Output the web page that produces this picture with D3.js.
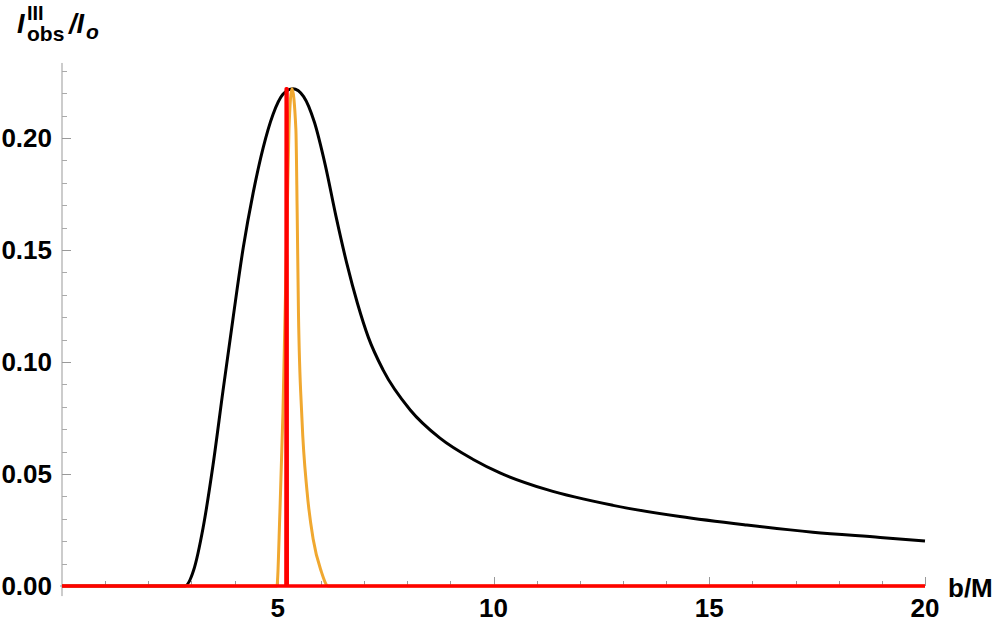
<!DOCTYPE html>
<html>
<head>
<meta charset="utf-8">
<script src="https://cdn.jsdelivr.net/npm/d3@7"></script>
<style>
  body { margin: 0; background: #fff; }
  svg { display: block; font-family: "Liberation Sans", Arial, sans-serif; }
  .tick-label { font-size: 26px; font-weight: bold; fill: #000; }
</style>
</head>
<body>
<div id="chart"></div>
<script>
// 黑线：b/M 与强度
const blackB = [0, 2.85, 3.05, 3.27, 3.5, 3.73, 3.96, 4.2, 4.43, 4.66, 4.89, 5.12, 5.35, 5.6, 5.85, 6.1, 6.35, 6.6, 6.85, 7.1, 7.44, 8.07, 8.76, 9.53, 10.15, 11.24, 12.77, 14.32, 15.87, 17.4, 18.96, 20];
const blackV = [0, 0, 0.007, 0.026, 0.054, 0.087, 0.119, 0.151, 0.1755, 0.1955, 0.2105, 0.2195, 0.222, 0.2185, 0.207, 0.188, 0.165, 0.144, 0.126, 0.111, 0.0965, 0.0786, 0.066, 0.0565, 0.0505, 0.0430, 0.0360, 0.0310, 0.0272, 0.0240, 0.0217, 0.0201];

// 橙线
const orangeB = [0, 4.98, 5.05, 5.12, 5.17, 5.22, 5.26, 5.33, 5.42, 5.45, 5.48, 5.56, 5.68, 5.82, 6.0, 6.17, 20];
const orangeV = [0, 0, 0.033, 0.077, 0.122, 0.167, 0.204, 0.222, 0.204, 0.167, 0.122, 0.075, 0.042, 0.021, 0.007, 0, 0];

// 红线（窄峰）
const redB = [0, 5.19, 5.195, 5.215, 5.22, 20];
const redV = [0, 0, 0.222, 0.222, 0, 0];

const xMajor = [5, 10, 15, 20];
const yMajor = [0, 0.05, 0.10, 0.15, 0.20];

const width = 997, height = 633;

const x = d3.scaleLinear().domain([0, 20]).range([62, 925]);
const y = d3.scaleLinear().domain([0, 0.2]).range([586, 138]);

const svg = d3.select('#chart').append('svg')
  .attr('width', width)
  .attr('height', height);

const axisColor = '#999';

// y 轴
const yAxis = svg.append('g');
yAxis.append('line')
  .attr('x1', x(0)).attr('x2', x(0))
  .attr('y1', y(0.2335)).attr('y2', y(-0.0045))
  .attr('stroke', axisColor).attr('stroke-width', 1);

const yMinor = d3.range(0, 24).map(i => i / 100);
yAxis.selectAll('line.minor')
  .data(yMinor.filter(v => !yMajor.some(m => Math.abs(m - v) < 1e-9)))
  .join('line')
  .attr('class', 'minor')
  .attr('x1', x(0)).attr('x2', x(0) + 5)
  .attr('y1', d => Math.round(y(d)) + 0.5).attr('y2', d => Math.round(y(d)) + 0.5)
  .attr('stroke', '#aaa');

yAxis.selectAll('line.major')
  .data(yMajor)
  .join('line')
  .attr('class', 'major')
  .attr('x1', x(0)).attr('x2', x(0) + 9)
  .attr('y1', d => Math.round(y(d)) + 0.5).attr('y2', d => Math.round(y(d)) + 0.5)
  .attr('stroke', axisColor);

yAxis.selectAll('text')
  .data(yMajor)
  .join('text')
  .attr('class', 'tick-label')
  .attr('x', 52)
  .attr('y', d => y(d) + 9)
  .attr('text-anchor', 'end')
  .text(d => d3.format('.2f')(d));

// x 轴
const xAxis = svg.append('g');
xAxis.append('line')
  .attr('x1', x(0) - 2).attr('x2', x(20))
  .attr('y1', y(0)).attr('y2', y(0))
  .attr('stroke', axisColor);

const xMinor = d3.range(1, 20).filter(v => v % 5 !== 0);
xAxis.selectAll('line.minor')
  .data(xMinor)
  .join('line')
  .attr('class', 'minor')
  .attr('x1', d => Math.round(x(d)) + 0.5).attr('x2', d => Math.round(x(d)) + 0.5)
  .attr('y1', y(0)).attr('y2', y(0) - 5)
  .attr('stroke', axisColor);

xAxis.selectAll('line.major')
  .data(xMajor)
  .join('line')
  .attr('class', 'major')
  .attr('x1', d => Math.round(x(d)) + 0.5).attr('x2', d => Math.round(x(d)) + 0.5)
  .attr('y1', y(0)).attr('y2', y(0) - 9)
  .attr('stroke', axisColor);

xAxis.selectAll('text')
  .data(xMajor)
  .join('text')
  .attr('class', 'tick-label')
  .attr('x', d => x(d))
  .attr('y', 617)
  .attr('text-anchor', 'middle')
  .text(d => d);

// 曲线
const line = d3.line()
  .x(d => x(d[0]))
  .y(d => y(d[1]));

function drawCurve(bs, vs, color, w, curve) {
  svg.append('path')
    .datum(bs.map((b, i) => [b, vs[i]]))
    .attr('d', line.curve(curve))
    .attr('fill', 'none')
    .attr('stroke', color)
    .attr('stroke-width', w)
    .attr('stroke-linejoin', 'round');
}

drawCurve(blackB, blackV, '#000', 3, d3.curveMonotoneX);
drawCurve(orangeB, orangeV, '#f0a830', 3, d3.curveMonotoneX);
drawCurve(redB, redV, '#ff0000', 3.5, d3.curveLinear);

// 轴标题
svg.append('text')
  .attr('class', 'tick-label')
  .attr('x', 948)
  .attr('y', 597)
  .text('b/M');

const title = svg.append('text')
  .attr('font-weight', 'bold')
  .attr('fill', '#000');
title.append('tspan').attr('x', 17).attr('y', 33)
  .attr('font-size', 27).attr('font-style', 'italic').text('I');
title.append('tspan').attr('x', 27).attr('y', 20)
  .attr('font-size', 20).text('III');
title.append('tspan').attr('x', 27).attr('y', 41)
  .attr('font-size', 21).text('obs');
title.append('tspan').attr('x', 69).attr('y', 33)
  .attr('font-size', 27).attr('font-style', 'italic').text('/I');
title.append('tspan').attr('x', 86).attr('y', 39)
  .attr('font-size', 21).attr('font-style', 'italic').text('o');
</script>
</body>
</html>
